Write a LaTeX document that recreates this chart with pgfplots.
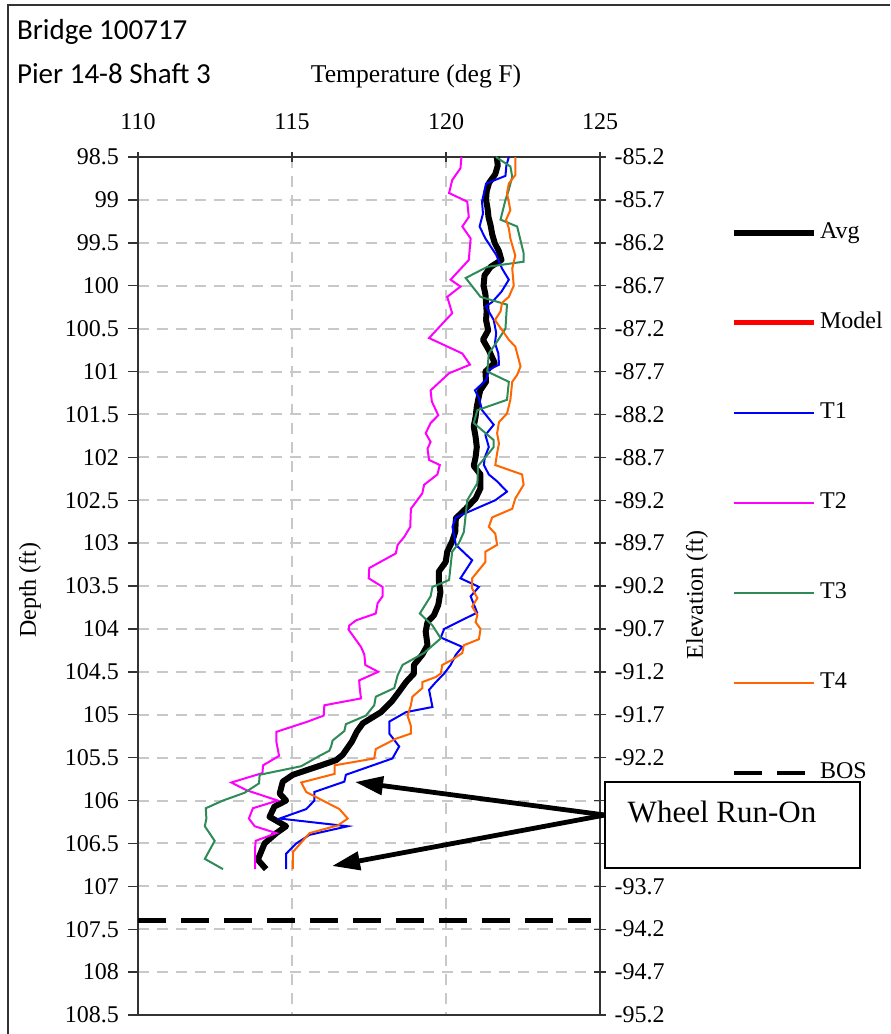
\documentclass[border=0pt]{standalone}
\usepackage{fontspec}
\setmainfont{Liberation Serif}
\newfontfamily\calibri{Carlito}
\usepackage{pgfplots}
\pgfplotsset{compat=1.18}
\usetikzlibrary{arrows.meta}

\definecolor{tone}{RGB}{0,0,255}
\definecolor{ttwo}{RGB}{255,0,255}
\definecolor{tthree}{RGB}{46,139,87}
\definecolor{tfour}{RGB}{255,102,0}
\definecolor{gridgray}{RGB}{200,200,200}

\begin{document}
\begin{tikzpicture}
% page frame
\path[use as bounding box] (0pt,0pt) rectangle (445pt,-517pt);
\draw[black!80, line width=0.8pt] (4pt,-517pt) -- (4pt,-2.5pt) -- (445pt,-2.5pt);

\begin{axis}[
  at={(69pt,-78.5pt)}, anchor=north west,
  scale only axis, width=231pt, height=429pt,
  xmin=110, xmax=125, ymin=98.5, ymax=108.5,
  y dir=reverse,
  clip=false,
  font=\fontsize{12}{14}\selectfont,
  /pgf/number format/assume math mode=true,
  xtick={110,115,120,125},
  xtick pos=right, xticklabel pos=right,
  xtick align=center,
  xticklabel style={yshift=7.5pt},
  ytick={98.5,99,99.5,100,100.5,101,101.5,102,102.5,103,103.5,104,104.5,105,105.5,106,106.5,107,107.5,108,108.5},
  yticklabels={98.5,99,99.5,100,100.5,101,101.5,102,102.5,103,103.5,104,104.5,105,105.5,106,106.5,107,107.5,108,108.5},
  ytick pos=left, ytick align=outside,
  yticklabel style={xshift=-1pt},
  major tick length=5pt,
  tick style={black!80, line width=0.7pt},
  axis line style={black!80, line width=0.8pt},
  grid=major,
  major grid style={gridgray, line width=1pt, dash pattern=on 5.5pt off 4pt},
  legend image code/.code={\draw[#1] (0pt,0pt) -- (40pt,0pt);},
  legend cell align=left,
  legend style={at={(1.270,0.933)}, anchor=north west, draw=none, fill=none,
    font=\fontsize{12}{14}\selectfont, row sep=31pt,
    nodes={inner sep=1.5pt, text height=8.5pt, text depth=2.5pt}},
]
% Avg
\addplot[black, line width=3pt, line join=round] coordinates {
(121.65,98.5) (121.68,98.6) (121.6,98.7) (121.4,98.8) (121.32,98.9) (121.3,99.0)
(121.35,99.1) (121.38,99.2) (121.45,99.3) (121.5,99.4) (121.58,99.5) (121.72,99.6)
(121.8,99.7) (121.45,99.78) (121.25,99.88) (121.22,100.0) (121.28,100.1) (121.3,100.2)
(121.32,100.3) (121.3,100.4) (121.37,100.52) (121.2,100.63) (121.39,100.75) (121.58,100.9)
(121.28,101.0) (121.3,101.12) (121.11,101.22) (121.05,101.32) (121.0,101.41) (120.96,101.53)
(120.9,101.64) (120.96,101.76) (121.0,101.88) (120.96,102.0) (120.9,102.1) (121.12,102.2)
(121.12,102.36) (120.96,102.48) (120.64,102.6) (120.32,102.71) (120.3,102.87) (120.2,102.98)
(120.04,103.1) (119.99,103.22) (119.77,103.33) (119.77,103.45) (119.82,103.57) (119.75,103.72)
(119.61,103.84) (119.4,103.92) (119.34,104.03) (119.4,104.19) (119.23,104.3) (118.96,104.42)
(118.96,104.52) (118.7,104.62) (118.48,104.73) (118.25,104.84) (117.89,104.97) (117.3,105.1)
(117.1,105.2) (116.95,105.31) (116.64,105.47) (116.43,105.53) (115.78,105.61) (115.03,105.7)
(114.7,105.78) (114.6,105.92) (114.81,106.0) (114.43,106.07) (114.27,106.19) (114.81,106.3)
(114.49,106.38) (114.11,106.5) (113.89,106.69) (114.16,106.8)
};
\addlegendentry{Avg}
\addlegendimage{red, line width=2.5pt}
\addlegendentry{Model}
% T1
\addplot[tone, line width=1pt] coordinates {
(122.04,98.5) (121.96,98.6) (121.93,98.72) (121.3,98.81) (121.17,99.02) (121.2,99.16)
(121.09,99.31) (121.28,99.45) (121.63,99.64) (121.82,99.8) (122.04,99.93) (121.8,100.07)
(121.5,100.19) (121.3,100.24) (121.39,100.3) (121.55,100.4) (121.63,100.55) (121.59,100.67)
(121.7,100.79) (121.72,100.92) (121.39,100.98) (121.3,101.1) (120.94,101.22) (121.07,101.31)
(121.17,101.45) (121.55,101.62) (121.28,101.74) (121.39,101.88) (121.26,102.0) (121.23,102.09)
(121.39,102.2) (121.66,102.28) (121.98,102.4) (121.6,102.5) (120.96,102.6) (120.32,102.7)
(120.21,102.81) (120.32,103.02) (120.85,103.2) (120.47,103.41) (121.07,103.51) (120.8,103.62)
(121.01,103.81) (119.94,104.0) (119.83,104.1) (120.53,104.21) (120.32,104.3) (120.15,104.42)
(119.94,104.52) (119.67,104.62) (119.45,104.71) (119.56,104.91) (118.7,104.97) (118.16,105.08)
(118.16,105.22) (118.48,105.37) (118.26,105.51) (116.75,105.7) (116.7,105.78) (115.73,105.9)
(115.73,106.0) (115.46,106.1) (114.6,106.21) (116.81,106.3) (115.57,106.4) (115.14,106.5)
(114.81,106.62) (114.81,106.8)
};
\addlegendentry{T1}
% T2
\addplot[ttwo, line width=1pt] coordinates {
(120.5,98.5) (120.47,98.63) (120.2,98.77) (120.1,98.92) (120.69,99.02) (120.74,99.2)
(120.53,99.31) (120.8,99.45) (120.74,99.7) (120.15,99.93) (120.47,100.01) (120.04,100.13)
(120.2,100.32) (119.45,100.61) (120.53,100.79) (120.78,100.92) (120.1,101.02) (119.5,101.22)
(119.54,101.35) (119.75,101.51) (119.5,101.6) (119.34,101.72) (119.5,101.82) (119.4,101.9)
(119.45,102.03) (119.8,102.09) (119.72,102.2) (119.29,102.32) (119.23,102.42) (118.86,102.6)
(118.84,102.81) (118.64,102.93) (118.43,103.02) (118.37,103.12) (117.51,103.29) (117.49,103.41)
(117.94,103.51) (117.94,103.62) (117.78,103.7) (117.72,103.82) (117.08,103.9) (116.86,103.96)
(116.84,104.01) (117.08,104.13) (117.24,104.21) (117.35,104.3) (117.38,104.42) (117.8,104.5)
(117.18,104.6) (117.2,104.69) (117.24,104.81) (116.05,104.89) (116.03,105.01) (115.51,105.08)
(114.49,105.2) (114.49,105.31) (114.58,105.48) (114.06,105.59) (114.04,105.68) (113.03,105.79)
(113.52,105.88) (114.54,106.0) (113.73,106.09) (113.6,106.21) (113.79,106.3) (114.49,106.38)
(113.82,106.47) (113.8,106.57) (113.8,106.8)
};
\addlegendentry{T2}
% T3
\addplot[tthree, line width=1pt] coordinates {
(121.62,98.5) (122.09,98.61) (122.15,98.73) (122.04,98.88) (121.93,99.0) (121.77,99.23)
(122.31,99.31) (122.52,99.62) (122.52,99.72) (121.34,99.78) (120.64,99.91) (121.12,100.13)
(121.98,100.22) (121.93,100.5) (121.66,100.65) (121.39,100.79) (121.34,101.0) (122.04,101.12)
(121.98,101.33) (121.02,101.45) (120.9,101.6) (121.55,101.8) (121.55,101.88) (121.28,102.0)
(121.04,102.1) (121.02,102.3) (120.69,102.5) (120.58,102.87) (120.42,103.0) (120.2,103.1)
(120.1,103.43) (119.56,103.51) (119.5,103.62) (119.15,103.82) (119.56,103.96) (119.83,104.11)
(119.29,104.28) (118.59,104.42) (118.43,104.54) (118.32,104.69) (117.72,104.79) (117.67,104.89)
(117.4,105.01) (116.75,105.11) (116.7,105.19) (116.32,105.3) (116.27,105.37) (116.21,105.42)
(115.89,105.48) (115.3,105.6) (113.95,105.7) (113.93,105.8) (113.46,105.91) (112.76,106.0)
(112.2,106.09) (112.22,106.21) (112.17,106.3) (112.49,106.47) (112.17,106.68) (112.76,106.8)
};
\addlegendentry{T3}
% T4
\addplot[tfour, line width=1pt] coordinates {
(122.25,98.5) (122.25,98.71) (122.04,98.81) (121.98,98.92) (122.09,99.12) (121.95,99.23)
(122.04,99.33) (122.09,99.45) (122.25,99.65) (122.15,99.8) (122.2,100.0) (122.04,100.13)
(121.82,100.2) (121.77,100.3) (121.59,100.4) (122.04,100.63) (122.25,100.71) (122.31,100.79)
(122.42,100.94) (122.31,101.04) (122.15,101.12) (122.09,101.33) (121.98,101.49) (121.72,101.59)
(121.66,101.72) (121.72,101.84) (121.66,101.95) (121.6,102.09) (122.47,102.2) (122.52,102.32)
(122.25,102.48) (122.15,102.6) (121.5,102.7) (121.39,102.81) (121.6,102.89) (121.66,103.02)
(121.28,103.1) (121.28,103.22) (120.85,103.41) (120.85,103.53) (121.02,103.64) (120.85,103.74)
(121.02,103.84) (120.96,103.92) (121.12,104.0) (121.07,104.12) (120.58,104.19) (120.53,104.28)
(120.2,104.36) (119.88,104.42) (119.83,104.52) (119.67,104.56) (119.23,104.62) (119.23,104.69)
(118.91,104.79) (118.86,104.89) (118.75,105.01) (118.86,105.13) (118.86,105.22) (118.37,105.28)
(117.72,105.4) (117.67,105.51) (116.38,105.59) (116.38,105.69) (115.3,105.79) (115.46,105.9)
(115.78,105.96) (116.54,106.1) (116.81,106.21) (116.49,106.29) (115.57,106.38) (115.03,106.6)
(115.03,106.8)
};
\addlegendentry{T4}
% bottom of shaft
\addplot[black, line width=2.4pt, dash pattern=on 14pt off 7.5pt] coordinates {(110,107.4) (124.7,107.4)};
\addlegendentry{BOS}
\end{axis}

% elevation scale on the right (two labels sit under the annotation box)
\begin{axis}[
  at={(69pt,-78.5pt)}, anchor=north west,
  scale only axis, width=231pt, height=429pt,
  xmin=110, xmax=125, ymin=-95.2, ymax=-85.2,
  hide x axis,
  axis y line*=right,
  font=\fontsize{12}{14}\selectfont,
  ytick={-95.2,-94.7,-94.2,-93.7,-93.2,-92.7,-92.2,-91.7,-91.2,-90.7,-90.2,-89.7,-89.2,-88.7,-88.2,-87.7,-87.2,-86.7,-86.2,-85.7,-85.2},
  yticklabels={-95.2,-94.7,-94.2,-93.7,{},{},-92.2,-91.7,-91.2,-90.7,-90.2,-89.7,-89.2,-88.7,-88.2,-87.7,-87.2,-86.7,-86.2,-85.7,-85.2},
  ytick align=center, major tick length=6pt,
  yticklabel style={xshift=0.8pt},
  tick style={black!80, line width=0.7pt},
  axis line style={black!80, line width=0.8pt},
]
\end{axis}

% titles and axis labels
\node[anchor=west, font=\calibri\fontsize{14.5}{16}\selectfont] at (5pt,-16pt) {Bridge 100717};
\node[anchor=west, font=\calibri\fontsize{14.5}{16}\selectfont] at (5pt,-37pt) {Pier 14-8 Shaft 3};
\node[font=\fontsize{12.8}{14}\selectfont] at (208pt,-38pt) {Temperature (deg F)};
\node[rotate=90, font=\fontsize{12}{14}\selectfont] at (15pt,-295pt) {Depth (ft)};
\node[rotate=90, font=\fontsize{12}{14}\selectfont] at (348.5pt,-297.5pt) {Elevation (ft)};

% annotation box with arrows
\draw[black, fill=white, line width=0.7pt] (302.5pt,-391pt) rectangle (430pt,-434pt);
\node[font=\fontsize{15.5}{18}\selectfont] at (361pt,-406pt) {Wheel Run-On};
\draw[black, line width=2.4pt, -{Triangle[length=14pt,width=9pt]}] (302.5pt,-407.5pt) -- (177.5pt,-391pt);
\draw[black, line width=2.4pt, -{Triangle[length=14pt,width=9pt]}] (302.5pt,-407.5pt) -- (166pt,-433pt);
\end{tikzpicture}
\end{document}
